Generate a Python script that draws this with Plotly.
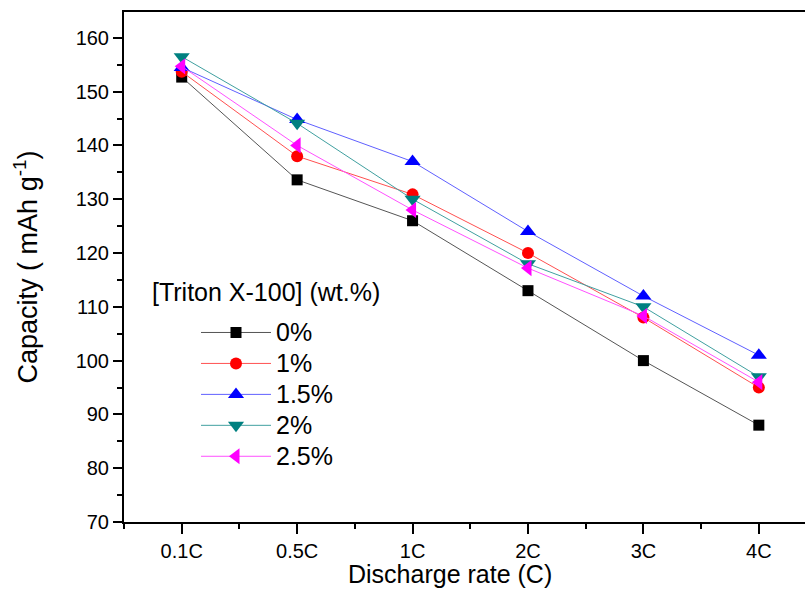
import plotly.graph_objects as go

rates = ["0.1C", "0.5C", "1C", "2C", "3C", "4C"]
xpos = [1, 2, 3, 4, 5, 6]

series_names = ["0%", "1%", "1.5%", "2%", "2.5%"]
cap_0 = [152.7, 133.6, 126.0, 113.0, 100.0, 88.0]
cap_1 = [153.7, 138.0, 130.9, 120.0, 108.0, 95.0]
cap_15 = [154.5, 144.8, 137.0, 124.0, 112.0, 101.0]
cap_2 = [156.5, 144.1, 130.0, 118.0, 110.0, 97.0]
cap_25 = [154.7, 140.0, 128.0, 117.2, 108.3, 96.0]

series_values = [cap_0, cap_1, cap_15, cap_2, cap_25]
colors = ["#000000", "#FF0000", "#0000FF", "#008080", "#FF00FF"]
line_colors = ["#555555", "#FF5050", "#6060FF", "#40A0A0", "#FF50FF"]
symbols = ["square", "circle", "triangle-up", "triangle-down", "triangle-left"]
sizes = [11, 12, 14, 14, 14]

FONT = "Liberation Sans, Arial, sans-serif"

W, H = 805, 589
ML, MR, MT, MB = 124, 0, 12, 67
pw, ph = W - ML - MR, H - MT - MB


def px_x(px):
    return (px - ML) / pw


def px_y(py):
    return 1 - (py - MT) / ph


fig = go.Figure()
for i, (name, vals) in enumerate(zip(series_names, series_values)):
    fig.add_trace(go.Scatter(
        x=xpos, y=vals,
        name='<span style="font-size:25px">' + name + '</span>',
        mode="lines+markers",
        line=dict(color=line_colors[i], width=1),
        marker=dict(symbol=symbols[i], color=colors[i], size=sizes[i], line=dict(width=0)),
    ))

fig.add_annotation(
    text="[Triton X-100] (wt.%)",
    x=px_x(150), y=px_y(292), xref="paper", yref="paper",
    showarrow=False, xanchor="left", yanchor="middle",
    font=dict(family=FONT, size=25, color="black"),
)
fig.add_annotation(
    text="Discharge rate (C)",
    x=px_x(450), y=px_y(574), xref="paper", yref="paper",
    showarrow=False, xanchor="center", yanchor="middle",
    font=dict(family=FONT, size=25, color="black"),
)

fig.update_layout(
    width=W, height=H,
    margin=dict(l=ML, r=MR, t=MT, b=MB),
    paper_bgcolor="white", plot_bgcolor="white",
    font=dict(family=FONT, color="black"),
    showlegend=True,
    legend=dict(
        x=px_x(196), y=px_y(312), xanchor="left", yanchor="top",
        font=dict(family=FONT, size=21.5, color="black"),
        bgcolor="rgba(0,0,0,0)", itemwidth=70, tracegroupgap=0,
    ),
    xaxis=dict(
        range=[0.5, 6.4], tickvals=xpos, ticktext=rates,
        showline=True, linecolor="black", linewidth=2, mirror=True,
        ticks="outside", ticklen=10, tickwidth=1.5, tickcolor="black",
        minor=dict(ticks="outside", ticklen=5, tickwidth=1.5, tickcolor="black", tick0=0.5, dtick=1),
        showgrid=False, zeroline=False,
        tickfont=dict(family=FONT, size=20),
    ),
    yaxis=dict(
        range=[70, 164.8], tick0=70, dtick=10,
        showline=True, linecolor="black", linewidth=2, mirror=False,
        ticks="outside", ticklen=9, tickwidth=1.5, tickcolor="black",
        minor=dict(ticks="outside", ticklen=5, tickwidth=1.5, tickcolor="black", dtick=5),
        showgrid=False, zeroline=False,
        tickfont=dict(family=FONT, size=20),
        title=dict(text="Capacity ( mAh g<sup>-1</sup>)", font=dict(family=FONT, size=27), standoff=30),
    ),
)

fig.write_html("out.html")
